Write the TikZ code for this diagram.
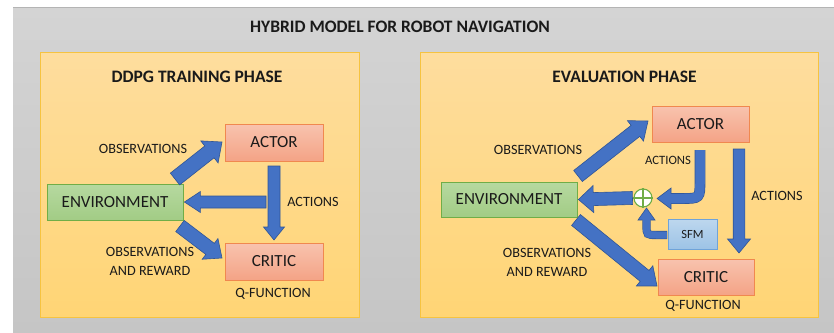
\documentclass[tikz,border=0pt]{standalone}
\usepackage{fontspec}
\setmainfont{Carlito}
\usetikzlibrary{calc}
\definecolor{bgtop}{HTML}{D4D4D4}
\definecolor{bgbot}{HTML}{C5C5C5}
\definecolor{bgline}{HTML}{B4B4B4}
\definecolor{paneltop}{HTML}{FEDD9E}
\definecolor{panelbot}{HTML}{FFD575}
\definecolor{panelline}{HTML}{F6C340}
\definecolor{redtop}{HTML}{F8C3AE}
\definecolor{redbot}{HTML}{F4A386}
\definecolor{redline}{HTML}{F0884F}
\definecolor{gtop}{HTML}{B6D9A0}
\definecolor{gbot}{HTML}{A2CC85}
\definecolor{gline}{HTML}{70AD47}
\definecolor{btop}{HTML}{BDD7EE}
\definecolor{bbot}{HTML}{9DC3E6}
\definecolor{bline}{HTML}{6FA3D9}
\definecolor{arrfill}{HTML}{4472C4}
\definecolor{arrline}{HTML}{2F5597}
\definecolor{txt}{HTML}{1A1A1A}
\newcommand\blockarrow[5]{%
  \coordinate (ba-h) at ($(#2)!#5!(#1)$);
  \filldraw[barrow] ($(#1)!#3!90:(#2)$) -- ($(ba-h)!#3!90:(#2)$) -- ($(ba-h)!#4!90:(#2)$) -- (#2)
    -- ($(ba-h)!#4!-90:(#2)$) -- ($(ba-h)!#3!-90:(#2)$) -- ($(#1)!#3!-90:(#2)$) -- cycle;}
\begin{document}
\begin{tikzpicture}[x=1pt,y=-1pt,
  barrow/.style={fill=arrfill, draw=arrline, line width=0.6pt, line join=miter},
  shaft/.style={draw=arrline, line width=0.6pt, double=arrfill},
  panel/.style={draw=panelline, line width=0.9pt, top color=paneltop, bottom color=panelbot, inner sep=0pt},
  redbox/.style={draw=redline, line width=0.8pt, top color=redtop, bottom color=redbot, text=txt,
    minimum width=98pt, minimum height=37pt, inner sep=0pt, font=\fontsize{17}{20}\selectfont},
  envbox/.style={draw=gline, line width=0.8pt, top color=gtop, bottom color=gbot, text=txt,
    minimum width=136pt, minimum height=36pt, inner sep=0pt, font=\fontsize{17}{20}\selectfont},
  sfmbox/.style={draw=bline, line width=0.8pt, top color=btop, bottom color=bbot, text=txt,
    minimum width=49pt, minimum height=30pt, inner sep=0pt, font=\fontsize{12.5}{14}\selectfont},
  sumnode/.style={circle, draw=gline, fill=white, line width=1.1pt, minimum size=18pt, inner sep=0pt},
  lbl/.style={text=txt, inner sep=0pt, align=center, font=\fontsize{14.2}{19}\selectfont},
  smlbl/.style={text=txt, inner sep=0pt, font=\fontsize{12.7}{15}\selectfont},
  ttl/.style={text=txt, inner sep=0pt, font=\fontsize{17.5}{20}\selectfont\bfseries}]
\useasboundingbox (0,0) rectangle (834,332);
\fill[white] (0,0) rectangle (834,332);
\shade[top color=bgtop, bottom color=bgbot] (13,7) rectangle (834,332);
\draw[bgline, line width=0.8pt] (13,7) -- (834,7);
\node[ttl] (title) at (400,27) {HYBRID MODEL FOR ROBOT NAVIGATION};
% panels
\node[panel, minimum width=319pt, minimum height=265pt] (lpanel) at (199.5,184.5) {};
\node[panel, minimum width=398pt, minimum height=265pt] (rpanel) at (619.5,184.5) {};
\node[ttl] (ltitle) at (197,77) {DDPG TRAINING PHASE};
\node[ttl] (rtitle) at (624.5,77) {EVALUATION PHASE};
% left panel nodes
\node[redbox] (actorL) at (274,142.5) {ACTOR};
\node[envbox] (envL) at (115,202) {ENVIRONMENT};
\node[redbox] (criticL) at (274,261.5) {CRITIC};
\node[lbl] (obsL) at (143,149) {OBSERVATIONS};
\node[lbl] (actL) at (313,202) {ACTIONS};
\node[lbl] (obsrL) at (150,261.5) {OBSERVATIONS\\AND REWARD};
\node[lbl] (qL) at (273,294) {Q-FUNCTION};
% left arrows
\coordinate (oL1) at (175,179);
\coordinate (oL2) at (222,142);
\blockarrow{oL1}{oL2}{7.5pt}{14pt}{16pt}
\coordinate (aL1) at (274,166);
\coordinate (aL2) at (274,240);
\blockarrow{aL1}{aL2}{6pt}{10.5pt}{13pt}
\coordinate (eL1) at (266,202);
\coordinate (eL2) at ($(envL.east)+(1,0)$);
\blockarrow{eL1}{eL2}{6pt}{10.5pt}{16pt}
\coordinate (rL1) at (180,226);
\coordinate (rL2) at (222,258);
\blockarrow{rL1}{rL2}{7pt}{13pt}{15pt}
% right panel nodes
\node[redbox, minimum width=97pt, minimum height=36pt] (actorR) at (700.5,124) {ACTOR};
\node[envbox, minimum height=35pt] (envR) at (509,199.5) {ENVIRONMENT};
\node[redbox, minimum width=96pt, minimum height=36pt] (criticR) at (706,277) {CRITIC};
\node[sfmbox] (sfm) at (692.5,234) {SFM};
\node[sumnode] (sum) at (643,198) {};
\draw[gline, line width=1.1pt] (sum.north) -- (sum.south) (sum.west) -- (sum.east);
\node[lbl] (obsR) at (538,150) {OBSERVATIONS};
\node[smlbl] (actR1) at (668,160) {ACTIONS};
\node[lbl] (actR2) at (777,196) {ACTIONS};
\node[lbl] (obsrR) at (547,262.5) {OBSERVATIONS\\AND REWARD};
\node[lbl] (qR) at (703,306) {Q-FUNCTION};
% right arrows
\coordinate (oR1) at (578,176);
\coordinate (oR2) at (648,121);
\blockarrow{oR1}{oR2}{7pt}{13pt}{16pt}
\coordinate (aR1) at (739,149);
\coordinate (aR2) at (739,253);
\blockarrow{aR1}{aR2}{5.8pt}{11.5pt}{14pt}
\coordinate (eR1) at ($(sum.west)+(-1,0)$);
\coordinate (eR2) at ($(envR.east)+(1,0)$);
\blockarrow{eR1}{eR2}{6.5pt}{13.5pt}{15pt}
\coordinate (rR1) at (576,220);
\coordinate (rR2) at (657,286);
\blockarrow{rR1}{rR2}{7pt}{13pt}{16pt}
% curved arrow actor -> sum
\coordinate (cs1) at (700,150);
\coordinate (cs2) at (671,198.5);
\draw[shaft, double distance=9.5pt] (cs1) -- (700,180) .. controls (700,198.5) .. (682,198.5) -- (cs2);
\fill[arrfill] (671,188) -- (657,198.5) -- (671,209) -- cycle;
\draw[arrline, line width=0.6pt, line join=miter] (671,193.5) -- (671,188) -- (657,198.5) -- (671,209) -- (671,203.5);
% curved arrow sfm -> sum
\coordinate (sf1) at ($(sfm.west)+(-0.5,1)$);
\draw[shaft, double distance=7pt] (sf1) -- (657,235) .. controls (646.5,235) .. (646.5,225) -- (646.5,220);
\fill[arrfill] (638,220) -- (646.5,208) -- (655,220) -- cycle;
\draw[arrline, line width=0.6pt, line join=miter] (642.4,220) -- (638,220) -- (646.5,208) -- (655,220) -- (650.6,220);
\end{tikzpicture}
\end{document}
